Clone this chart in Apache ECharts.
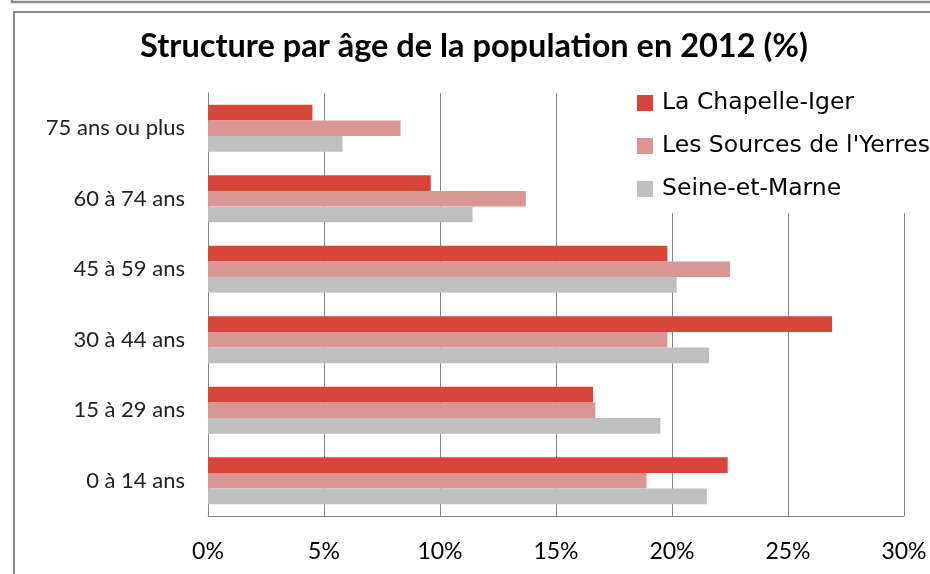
<!DOCTYPE html>
<html>
<head>
<meta charset="utf-8">
<script src="https://cdn.jsdelivr.net/npm/echarts@6/dist/echarts.min.js"></script>
<style>
  html, body { margin: 0; padding: 0; background: #fff; }
  #chart { width: 930px; height: 574px; }
</style>
</head>
<body>
<div id="chart"></div>
<script>
// Age groups, listed from top to bottom
const categories = ['75 ans ou plus', '60 à 74 ans', '45 à 59 ans', '30 à 44 ans', '15 à 29 ans', '0 à 14 ans'];

// Share of the population (%) in 2012
const laChapelleIger = [4.5, 9.6, 19.8, 26.9, 16.6, 22.4];
const lesSourcesYerres = [8.3, 13.7, 22.5, 19.8, 16.7, 18.9];
const seineEtMarne = [5.8, 11.4, 20.2, 21.6, 19.5, 21.5];

const seriesNames = ['La Chapelle-Iger', "Les Sources de l'Yerres", 'Seine-et-Marne'];
const seriesColors = ['#D8453B', '#D99694', '#BFBFBF'];

const chart = echarts.init(document.getElementById('chart'), null, { renderer: 'canvas' });

const frameColor = '#8c8c8c';
const gridColor = '#878787';

chart.setOption({
  backgroundColor: '#ffffff',
  animation: false,
  title: {
    text: 'Structure par âge de la population en 2012 (%)',
    left: 469,
    top: 25,
    textAlign: 'center',
    textStyle: { fontFamily: 'Lato', fontWeight: 'bold', fontSize: 32.5, color: '#000' }
  },
  graphic: [
    { type: 'polyline', shape: { points: [[12, 0], [12, 2], [930, 2]] }, style: { stroke: frameColor, lineWidth: 2.5, fill: null }, silent: true },
    { type: 'rect', shape: { x: 14, y: 12, width: 1000, height: 1000 }, style: { stroke: frameColor, lineWidth: 2, fill: null }, silent: true }
  ],
  legend: {
    orient: 'vertical',
    left: 615,
    top: 78,
    padding: [13, 40, 12, 22],
    backgroundColor: '#ffffff',
    itemWidth: 16,
    itemHeight: 16,
    itemGap: 19,
    icon: 'rect',
    data: seriesNames,
    textStyle: { fontFamily: 'DejaVu Sans', fontSize: 23.5, lineHeight: 23, color: '#000', padding: [0, 0, 0, 4] },
    z: 10
  },
  grid: { left: 208, right: 26, top: 93, bottom: 58, containLabel: false },
  xAxis: {
    type: 'value',
    min: 0,
    max: 30,
    interval: 5,
    axisLine: { show: true, lineStyle: { color: gridColor, width: 1 } },
    axisTick: { show: false },
    splitLine: { show: true, lineStyle: { color: gridColor, width: 1 } },
    axisLabel: {
      formatter: v => v + '%',
      fontFamily: 'Lato', fontSize: 23, color: '#000', margin: 24
    }
  },
  yAxis: {
    type: 'category',
    inverse: true,
    data: categories,
    axisLine: { show: true, lineStyle: { color: gridColor, width: 1 } },
    axisTick: { show: false },
    axisLabel: { fontFamily: 'Lato', fontSize: 22, color: '#222', margin: 23 }
  },
  series: [
    { name: seriesNames[0], type: 'bar', data: laChapelleIger, itemStyle: { color: seriesColors[0] }, barGap: '0%', barCategoryGap: '33%' },
    { name: seriesNames[1], type: 'bar', data: lesSourcesYerres, itemStyle: { color: seriesColors[1] }, barGap: '0%', barCategoryGap: '33%' },
    { name: seriesNames[2], type: 'bar', data: seineEtMarne, itemStyle: { color: seriesColors[2] }, barGap: '0%', barCategoryGap: '33%' }
  ]
});
</script>
</body>
</html>
